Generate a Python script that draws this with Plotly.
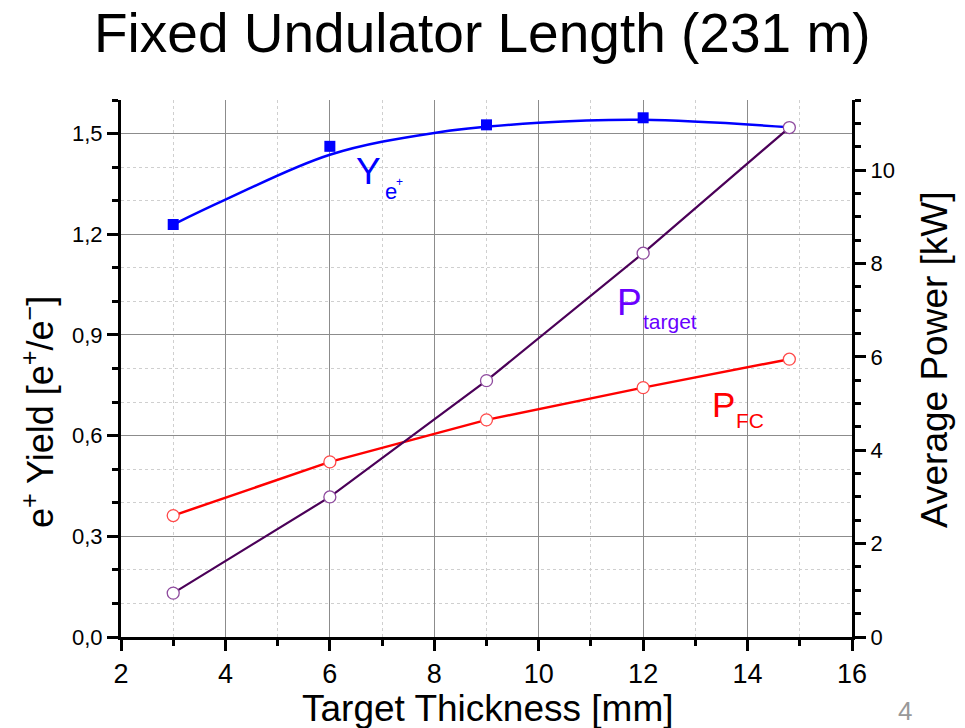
import plotly.graph_objects as go

# ---- data ----
thickness = [3, 6, 9, 12, 14.8]
yield_x = [3, 6, 9, 12]
yield_pts = [1.229, 1.462, 1.526, 1.547]
yield_fit_x = [3, 4, 6, 8, 10, 12, 14.8]
yield_fit = [1.229, 1.303, 1.437, 1.502, 1.532, 1.541, 1.519]
p_target = [0.94, 3.00, 5.49, 8.22, 10.91]
p_fc = [2.60, 3.75, 4.65, 5.34, 5.95]

FONT = "Liberation Sans, Arial, Helvetica, sans-serif"
BLUE = "#0000ff"
RED = "#ff0000"
PURPLE = "#4b0058"

fig = go.Figure()

fig.add_trace(go.Scatter(x=yield_fit_x, y=yield_fit, mode="lines",
                         line=dict(color=BLUE, width=2.5, shape="spline", smoothing=1.0),
                         yaxis="y", showlegend=False))
fig.add_trace(go.Scatter(x=yield_x, y=yield_pts, mode="markers",
                         marker=dict(symbol="square", size=11, color=BLUE),
                         yaxis="y", showlegend=False))
fig.add_trace(go.Scatter(x=thickness, y=p_fc, mode="lines+markers",
                         line=dict(color=RED, width=2.5),
                         marker=dict(symbol="circle", size=12, color="white",
                                     line=dict(color="#ff4a4a", width=1.3)),
                         yaxis="y2", showlegend=False))
fig.add_trace(go.Scatter(x=thickness, y=p_target, mode="lines+markers",
                         line=dict(color=PURPLE, width=2.2),
                         marker=dict(symbol="circle", size=12, color="white",
                                     line=dict(color="#8e4a9e", width=1.3)),
                         yaxis="y2", showlegend=False))

L, R, T, B = 121, 113, 100, 91
W, H = 965, 728
PW, PH = W - L - R, H - T - B


def px(x):
    return (x - L) / PW


def py(y):
    return (H - B - y) / PH


ann = []
# title and axis titles
ann.append(dict(text="Fixed Undulator Length (231 m)", x=px(482), y=py(33),
                font=dict(size=55, color="black")))
ann.append(dict(text="Target Thickness [mm]", x=px(487), y=py(708),
                font=dict(size=37, color="black")))
ann.append(dict(text="e<sup>+</sup> Yield [e<sup>+</sup>/e<sup>\u2212</sup>]", x=px(38), y=py(412),
                textangle=-90, font=dict(size=36, color="black")))
ann.append(dict(text="Average Power [kW]", x=px(934), y=py(360),
                textangle=-90, font=dict(size=37, color="black")))
ann.append(dict(text="4", x=px(905), y=py(711), font=dict(size=26, color="#999999")))
for a in ann:
    a.update(xref="paper", yref="paper", showarrow=False, xanchor="center", yanchor="middle")

labels = [
    dict(text="Y", x=6.74, y=1.386, yref="y", font=dict(size=37, color=BLUE)),
    dict(text="e", x=7.17, y=1.326, yref="y", font=dict(size=22, color=BLUE)),
    dict(text="+", x=7.34, y=1.357, yref="y", font=dict(size=12, color=BLUE)),
    dict(text="P", x=11.73, y=7.16, yref="y2", font=dict(size=37, color="#6a00ff")),
    dict(text="target", x=12.52, y=6.75, yref="y2", font=dict(size=21, color="#6a00ff")),
    dict(text="P", x=13.54, y=4.97, yref="y2", font=dict(size=35, color=RED)),
    dict(text="FC", x=14.04, y=4.64, yref="y2", font=dict(size=21, color=RED)),
]
for a in labels:
    a.update(xref="x", showarrow=False, xanchor="center", yanchor="middle")
ann.extend(labels)

fig.update_layout(
    width=W, height=H,
    margin=dict(l=L, r=R, t=T, b=B, pad=0),
    paper_bgcolor="white", plot_bgcolor="white",
    font=dict(family=FONT, color="black"),
    separators=",.",
    annotations=ann,
    xaxis=dict(range=[2, 16], dtick=2, tick0=2, showline=True, linecolor="black", linewidth=3,
               ticks="outside", ticklen=11, tickwidth=2.5, tickcolor="black",
               tickfont=dict(size=27), showgrid=True, gridcolor="#8c8c8c", gridwidth=1,
               zeroline=False, mirror=False,
               minor=dict(dtick=1, ticks="outside", ticklen=6, tickwidth=2.5, tickcolor="black",
                          showgrid=True, gridcolor="#cfcfcf", griddash="3px,3px", gridwidth=1)),
    yaxis=dict(range=[0, 1.6], dtick=0.3, tick0=0, tickformat=".1f", showline=True,
               linecolor="black", linewidth=3, ticks="outside", ticklen=11, tickwidth=2.5,
               tickcolor="black", tickfont=dict(size=22), showgrid=True, gridcolor="#8c8c8c",
               gridwidth=1, zeroline=False,
               minor=dict(dtick=0.1, tick0=0, ticks="outside", ticklen=6, tickwidth=2.5,
                          tickcolor="black", showgrid=True, gridcolor="#cfcfcf",
                          griddash="3px,3px", gridwidth=1)),
    yaxis2=dict(range=[0, 11.5], dtick=2, tick0=0, overlaying="y", side="right",
                showline=True, linecolor="black", linewidth=3, ticks="outside", ticklen=11,
                tickwidth=2.5, tickcolor="black", tickfont=dict(size=22), showgrid=False,
                zeroline=False,
                minor=dict(dtick=0.5, tick0=0, ticks="outside", ticklen=6, tickwidth=2.5,
                           tickcolor="black", showgrid=False)),
)

fig.write_html("out.html")
